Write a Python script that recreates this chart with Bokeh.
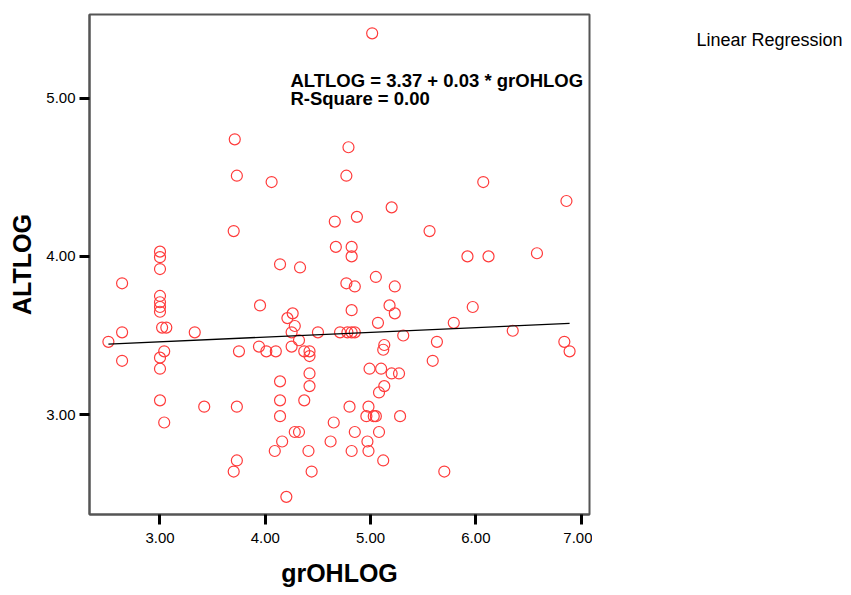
from bokeh.plotting import figure
from bokeh.layouts import row
from bokeh.models import Range1d, FixedTicker, PrintfTickFormatter, Label
from bokeh.embed import file_html
from bokeh.resources import INLINE

# ---- data ----
gr_ohlog = [
    3.71, 3.73, 4.06, 3.70, 3.00, 3.00, 3.00, 4.66, 4.67, 4.14, 4.33,
    5.015, 4.79, 4.77, 6.07, 5.20, 4.87, 6.86, 5.56, 4.82, 4.82, 5.92, 6.12, 6.58,
    2.64, 3.00, 3.00, 3.00, 3.00, 3.02, 3.06, 2.64, 3.33, 2.51, 3.04, 3.00, 2.64,
    3.00, 3.00, 3.04, 3.42, 3.73, 3.75, 3.95, 3.94, 4.01, 4.10, 4.26, 4.21, 4.28,
    4.25, 4.32, 4.25, 4.37, 4.42, 4.42, 4.50, 4.14, 4.14, 4.14, 4.42, 4.42, 4.37,
    4.28, 4.32, 4.16, 4.09, 4.41, 4.65, 4.62, 3.73, 3.70, 4.44, 4.20,
    5.05, 4.77, 4.85, 5.23, 5.18, 5.23, 4.82, 5.97, 5.07, 5.79, 4.71, 4.78, 4.82,
    4.85, 5.31, 6.35, 6.84, 6.89, 5.63, 5.59, 5.13, 5.12, 4.99, 5.10, 5.20, 5.27,
    5.13, 5.08, 4.80, 4.98, 4.96, 5.03, 5.05, 5.28, 4.85, 5.08, 4.97, 4.82, 4.98,
    5.12, 5.70,
]
altlog = [
    4.74, 4.51, 4.47, 4.16, 4.03, 3.995, 3.92, 4.22, 4.06, 3.95, 3.93,
    5.41, 4.69, 4.51, 4.47, 4.31, 4.25, 4.35, 4.16, 4.06, 4.00, 4.00, 4.00, 4.02,
    3.83, 3.75, 3.71, 3.68, 3.65, 3.55, 3.55, 3.52, 3.52, 3.46, 3.40, 3.36, 3.34,
    3.29, 3.09, 2.95, 3.05, 3.05, 3.40, 3.69, 3.43, 3.40, 3.40, 3.64, 3.61, 3.56,
    3.52, 3.47, 3.43, 3.40, 3.40, 3.37, 3.52, 3.21, 3.09, 2.99, 3.26, 3.18, 3.09,
    2.89, 2.89, 2.83, 2.77, 2.77, 2.95, 2.83, 2.71, 2.64, 2.64, 2.48,
    3.87, 3.83, 3.81, 3.81, 3.69, 3.64, 3.66, 3.68, 3.58, 3.58, 3.52, 3.52, 3.52,
    3.52, 3.50, 3.53, 3.46, 3.40, 3.46, 3.34, 3.44, 3.41, 3.29, 3.29, 3.26, 3.26,
    3.18, 3.14, 3.05, 3.05, 2.99, 2.99, 2.99, 2.99, 2.89, 2.89, 2.83, 2.77, 2.77,
    2.71, 2.64,
]
intercept = 3.37
slope = 0.03
r_square = 0.00
x_ticks = [3, 4, 5, 6, 7]
y_ticks = [3, 4, 5]
x_title = "grOHLOG"
y_title = "ALTLOG"
legend_text = "Linear Regression"

p = figure(width=592, height=595, output_backend="svg", toolbar_location=None,
           x_range=Range1d(2.3305, 7.079), y_range=Range1d(2.3685, 5.529),
           min_border_left=89, min_border_right=3, min_border_top=14,
           min_border_bottom=81)
p.background_fill_color = "white"
p.border_fill_color = "white"
p.outline_line_color = "#555555"
p.outline_line_width = 2
p.grid.visible = False

for ax, ticks in ((p.xaxis, x_ticks), (p.yaxis, y_ticks)):
    ax.ticker = FixedTicker(ticks=ticks)
    ax.formatter = PrintfTickFormatter(format="%.2f")
    ax.major_tick_out = 10
    ax.major_tick_in = 0
    ax.minor_tick_out = 0
    ax.minor_tick_in = 0
    ax.major_tick_line_width = 3
    ax.major_tick_line_color = "black"
    ax.axis_line_color = "#555555"
    ax.axis_line_width = 2
    ax.major_label_text_font = "Liberation Sans"
    ax.major_label_text_font_size = "15px"
    ax.major_label_text_color = "black"
    ax.axis_label_text_font = "Liberation Sans"
    ax.axis_label_text_font_style = "bold"
    ax.axis_label_text_color = "black"

p.xaxis.axis_label = x_title
p.yaxis.axis_label = y_title
p.xaxis.major_label_standoff = 8
p.yaxis.major_label_standoff = 4
p.xaxis.axis_label_text_font_size = "25px"
p.yaxis.axis_label_text_font_size = "25px"
p.xaxis.axis_label_standoff = 13
p.yaxis.axis_label_standoff = 7

p.scatter(gr_ohlog, altlog, marker="circle", size=11, fill_color=None,
          line_color="#ff3b3b", line_width=1.2)

x0, x1 = min(gr_ohlog), max(gr_ohlog)
p.line([x0, x1], [intercept + slope * x0, intercept + slope * x1],
       line_color="black", line_width=1.3)

eq = f"ALTLOG = {intercept:.2f} + {slope:.2f} * grOHLOG"
rs = f"R-Square = {r_square:.2f}"
p.add_layout(Label(x=4.239, y=5.112, text=eq, text_font="Liberation Sans",
                   text_font_style="bold", text_font_size="18.5px",
                   text_baseline="alphabetic", text_color="black"))
p.add_layout(Label(x=4.239, y=4.998, text=rs, text_font="Liberation Sans",
                   text_font_style="bold", text_font_size="18.5px",
                   text_baseline="alphabetic", text_color="black"))

# side panel carrying the "Linear Regression" caption (ranges in pixels, y downwards)
side = figure(width=259, height=595, output_backend="svg", toolbar_location=None,
              x_range=Range1d(0, 259), y_range=Range1d(595, 0),
              x_axis_location=None, y_axis_location=None, min_border=0)
side.title.visible = False
side.grid.visible = False
side.outline_line_color = None
side.background_fill_color = "white"
side.border_fill_color = "white"
side.add_layout(Label(x=104, y=30, text=legend_text, text_font="Liberation Sans",
                      text_font_size="18px", text_baseline="alphabetic",
                      text_color="black"))

layout = row(p, side, spacing=0)
open("out.html", "w").write(file_html(layout, INLINE))
